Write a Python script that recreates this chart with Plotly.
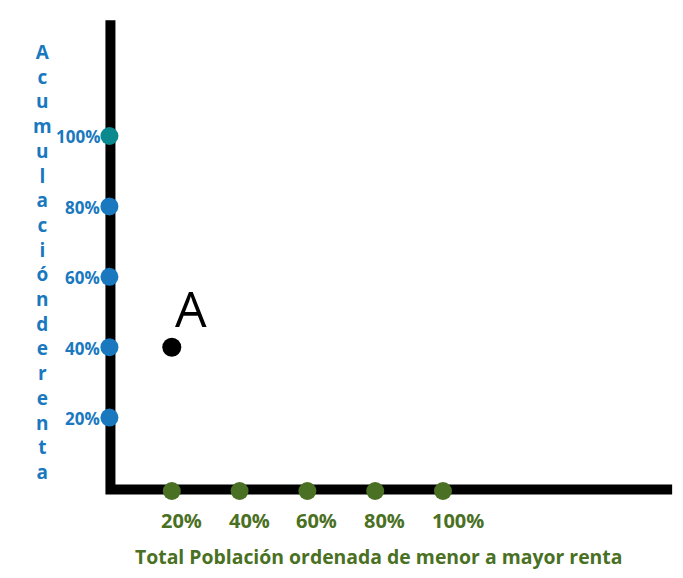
import plotly.graph_objects as go

# Data
x_pct = [20, 40, 60, 80, 100]
x_labels = ["20%", "40%", "60%", "80%", "100%"]
y_pct = [20, 40, 60, 80, 100]
y_labels = ["20%", "40%", "60%", "80%", "100%"]
y_colors = ["#1a78bf", "#1a78bf", "#1a78bf", "#1a78bf", "#0a8a8e"]
point_a = {"x": 20, "y": 40, "label": "A"}
x_title = "Total Población ordenada de menor a mayor renta"
y_title = "Acumulación de renta"

BLUE = "#1a78bf"
GREEN = "#4a7023"
FONT = "Open Sans"
OFF = 8  # page body margin in the browser

fig = go.Figure()

# axis lines (hand-drawn style)
fig.add_shape(type="path", path="M 1.9,132.9 L 1.9,-0.4 L 167.6,-0.4", layer="below",
              line=dict(color="black", width=10), xref="x", yref="y")

fig.add_trace(go.Scatter(x=[1.6] * len(y_pct), y=y_pct, mode="markers",
                         marker=dict(size=18, color=y_colors), cliponaxis=False,
                         hoverinfo="skip"))
fig.add_trace(go.Scatter(x=x_pct, y=[-0.85] * len(x_pct), mode="markers",
                         marker=dict(size=18, color=GREEN), cliponaxis=False,
                         hoverinfo="skip"))
fig.add_trace(go.Scatter(x=[point_a["x"]], y=[point_a["y"]], mode="markers",
                         marker=dict(size=19, color="black"), hoverinfo="skip"))

for v, lab in zip(y_pct, y_labels):
    fig.add_annotation(x=0, y=v, text=f"<b>{lab}</b>", showarrow=False,
                       xanchor="right", yanchor="middle", xshift=-2, yshift=-1,
                       font=dict(family=FONT, size=17, color=BLUE))
for v, lab in zip(x_pct, x_labels):
    fig.add_annotation(x=v, y=0, text=f"<b>{lab}</b>", showarrow=False,
                       xanchor="left", yanchor="middle", xshift=-13, yshift=-32,
                       font=dict(family=FONT, size=20, color=GREEN))

fig.add_annotation(x=point_a["x"], y=point_a["y"], text=point_a["label"], showarrow=False,
                   xanchor="center", yanchor="middle", xshift=19, yshift=39,
                   font=dict(family=FONT, size=50, color="black"))

fig.add_annotation(xref="paper", yref="paper", x=(378 - OFF) / 683, y=1 - (556 - OFF) / 578,
                   text=f"<b>{x_title}</b>", showarrow=False,
                   xanchor="center", yanchor="middle",
                   font=dict(family=FONT, size=19.4, color=GREEN))

stacked = "<br>".join(f"<b>{c}</b>" for c in y_title.replace(" ", ""))
fig.add_annotation(xref="paper", yref="paper", x=(42 - OFF) / 683, y=1 - (262 - OFF) / 578,
                   text=stacked, showarrow=False, align="center",
                   xanchor="center", yanchor="middle",
                   font=dict(family=FONT, size=19, color=BLUE))

fig.update_layout(
    width=683, height=578,
    margin=dict(l=0, r=0, t=0, b=0),
    paper_bgcolor="white", plot_bgcolor="white",
    showlegend=False,
    xaxis=dict(range=[-28.32, 173.16], visible=False, fixedrange=True),
    yaxis=dict(range=[-27.84, 136.36], visible=False, fixedrange=True),
)

fig.write_html("out.html")
